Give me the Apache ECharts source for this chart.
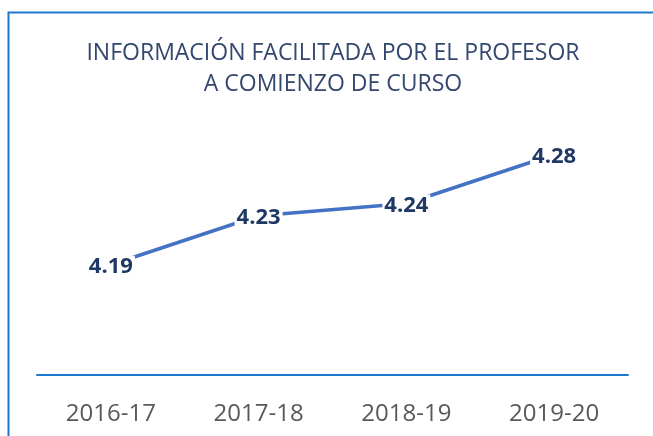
<!DOCTYPE html>
<html>
<head>
<meta charset="utf-8">
<script src="https://cdn.jsdelivr.net/npm/echarts@6/dist/echarts.min.js"></script>
<style>
  html, body { margin: 0; padding: 0; background: #fff; }
  #chart { width: 653px; height: 436px; }
</style>
</head>
<body>
<div id="chart"></div>
<script>
// values
const titleText = 'INFORMACIÓN FACILITADA POR EL PROFESOR\nA COMIENZO DE CURSO'
const courses = ['2016-17', '2017-18', '2018-19', '2019-20']
const scores = [4.19, 4.23, 4.24, 4.28]

const chart = echarts.init(document.getElementById('chart'))

chart.setOption({
  animation: false,
  textStyle: { fontFamily: 'Open Sans' },
  title: {
    text: titleText,
    left: 333,
    top: 38,
    padding: 0,
    textAlign: 'center',
    textStyle: {
      fontFamily: 'Open Sans',
      fontSize: 23,
      lineHeight: 31,
      fontWeight: 'normal',
      color: '#34476E'
    }
  },
  graphic: [{
    type: 'rect',
    shape: { x: 8.5, y: 12.5, width: 700, height: 500 },
    style: { fill: 'none', stroke: '#1C78CC', lineWidth: 2 },
    silent: true
  }],
  grid: {
    left: 37,
    right: 25,
    top: 130,
    bottom: 61,
    containLabel: false
  },
  xAxis: {
    type: 'category',
    data: courses,
    boundaryGap: true,
    axisTick: { show: false },
    axisLine: {
      show: true,
      lineStyle: { color: '#1C78CC', width: 2 }
    },
    axisLabel: {
      margin: 27,
      fontSize: 24,
      color: '#595959'
    }
  },
  yAxis: {
    type: 'value',
    min: 4.10,
    max: 4.30,
    show: false,
    splitLine: { show: false }
  },
  series: [{
    type: 'line',
    data: scores,
    symbol: 'circle',
    symbolSize: 1,
    showSymbol: true,
    itemStyle: { color: '#4472C4' },
    lineStyle: { color: '#4472C4', width: 3.5 },
    label: {
      show: true,
      position: 'inside',
      offset: [0, 2],
      formatter: p => p.value.toFixed(2),
      fontSize: 22,
      fontWeight: 'bold',
      color: '#1F3864',
      backgroundColor: '#fff',
      padding: [0, 2]
    }
  }]
})
</script>
</body>
</html>
